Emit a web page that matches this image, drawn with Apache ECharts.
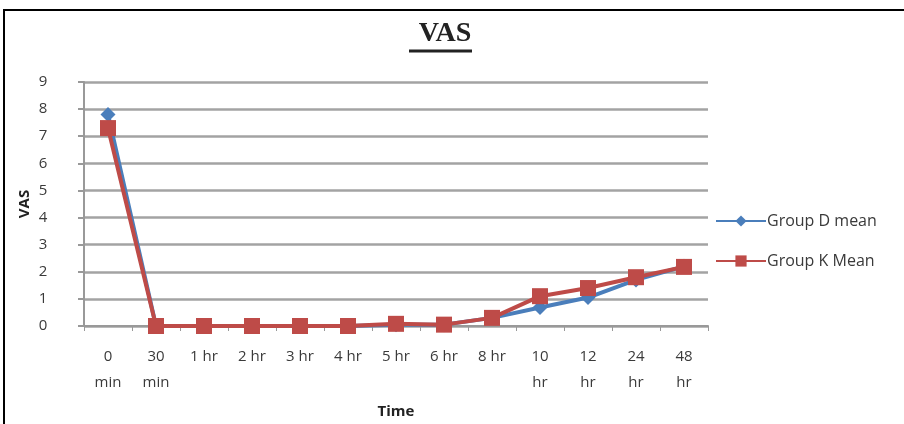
<!DOCTYPE html>
<html>
<head>
<meta charset="utf-8">
<script src="https://cdn.jsdelivr.net/npm/echarts@6/dist/echarts.min.js"></script>
<style>
  html, body { margin: 0; padding: 0; background: #fff; }
  #chart { width: 904px; height: 424px; }
</style>
</head>
<body>
<div id="chart"></div>
<script>
// Time points after the procedure
const timePoints = ['0\nmin', '30\nmin', '1 hr', '2 hr', '3 hr', '4 hr', '5 hr', '6 hr', '8 hr', '10\nhr', '12\nhr', '24\nhr', '48\nhr'];

// Mean VAS scores per group
const groupDMean = [7.8, 0, 0, 0, 0, 0, 0.05, 0.05, 0.3, 0.68, 1.05, 1.7, 2.2];
const groupKMean = [7.3, 0, 0, 0, 0, 0, 0.08, 0.05, 0.3, 1.1, 1.4, 1.8, 2.18];

// Y axis tick values
const vasTicks = [0, 1, 2, 3, 4, 5, 6, 7, 8, 9];

const chart = echarts.init(document.getElementById('chart'), null, { renderer: 'canvas' });

const labelFont = { fontFamily: 'Open Sans', fontSize: 15, color: '#3a3a3a' };

chart.setOption({
  animation: false,
  backgroundColor: '#fff',
  title: {
    text: 'VAS',
    left: 440,
    top: 15,
    textAlign: 'center',
    textStyle: { fontFamily: 'Liberation Serif', fontSize: 28, fontWeight: 'bold', color: '#222' }
  },
  graphic: [
    {
      type: 'rect',
      shape: { x: 4, y: 10, width: 920, height: 430 },
      style: { fill: 'none', stroke: '#000', lineWidth: 2 },
      silent: true
    },
    {
      type: 'line',
      shape: { x1: 409, y1: 51, x2: 472, y2: 51 },
      style: { stroke: '#222', lineWidth: 3 },
      silent: true
    }
  ],
  legend: {
    orient: 'vertical',
    left: 710,
    top: 208,
    itemGap: 24,
    itemWidth: 50,
    itemHeight: 14,
    textStyle: { fontFamily: 'Open Sans', fontSize: 16, color: '#3a3a3a', padding: [0, 0, 0, -4] },
    data: ['Group D mean', 'Group K Mean']
  },
  grid: { left: 84, right: 196, top: 82, bottom: 98 },
  xAxis: {
    type: 'category',
    data: timePoints,
    boundaryGap: true,
    name: 'Time',
    nameLocation: 'middle',
    nameGap: 78,
    nameMoveOverlap: false,
    nameTextStyle: { fontFamily: 'Open Sans', fontSize: 15, fontWeight: 'bold', color: '#222' },
    axisLine: { lineStyle: { color: '#999', width: 2 } },
    axisTick: { show: true, length: 5, lineStyle: { color: '#999' } },
    axisLabel: Object.assign({ margin: 18, lineHeight: 26, interval: 0 }, labelFont)
  },
  yAxis: {
    type: 'value',
    min: 0,
    max: 9,
    interval: 1,
    name: 'VAS',
    nameLocation: 'middle',
    nameGap: 52,
    nameMoveOverlap: false,
    nameRotate: 90,
    nameTextStyle: { fontFamily: 'Open Sans', fontSize: 15, fontWeight: 'bold', color: '#222' },
    axisLine: { show: true, lineStyle: { color: '#999', width: 2 } },
    axisTick: { show: true, length: 6, inside: false, lineStyle: { color: '#999', width: 2 } },
    splitLine: { lineStyle: { color: '#a3a3a3', width: 2.5 } },
    axisLabel: Object.assign({
      margin: 41,
      align: 'center',
      formatter: v => (vasTicks.indexOf(v) >= 0 ? String(v) : '')
    }, labelFont)
  },
  series: [
    {
      name: 'Group D mean',
      type: 'line',
      data: groupDMean,
      symbol: 'diamond',
      symbolSize: 15,
      lineStyle: { color: '#4a7ebb', width: 4 },
      itemStyle: { color: '#4a7ebb' },
      z: 2
    },
    {
      name: 'Group K Mean',
      type: 'line',
      data: groupKMean,
      symbol: 'rect',
      symbolSize: 16,
      lineStyle: { color: '#be4b48', width: 4 },
      itemStyle: { color: '#be4b48' },
      z: 3
    }
  ]
});
</script>
</body>
</html>
